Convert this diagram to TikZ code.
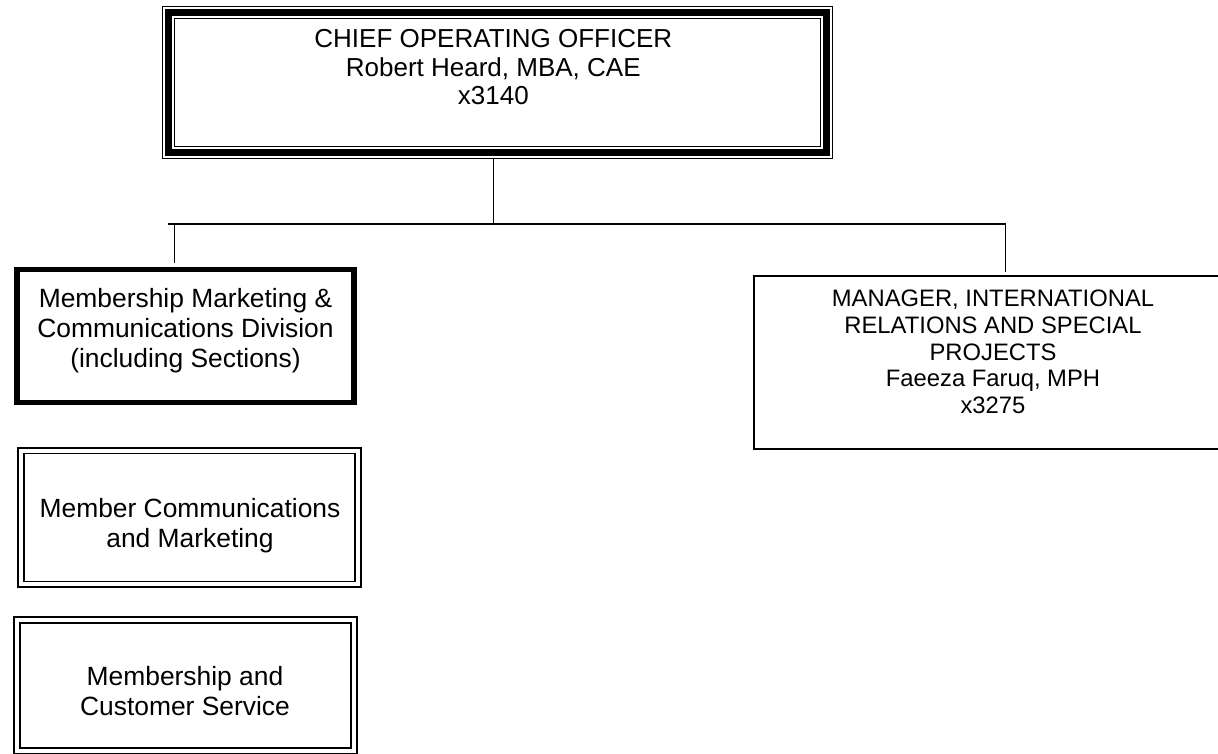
\documentclass[tikz,border=0pt]{standalone}
\usepackage{fontspec}
\setmainfont{Liberation Sans}
\begin{document}
\begin{tikzpicture}[x=1pt, y=-1pt]
		\tikzset{box/.style={rectangle, draw=black, inner sep=0pt}};
		\tikzset{heavy/.style={box, line width=5.5pt}};
		\tikzset{triple/.style={box, preaction={draw, line width=13.5pt}, preaction={draw, white, line width=11.3pt}, line width=7.5pt, outer sep=6.75pt}};
		\tikzset{dbl/.style={box, double, double distance=4pt, line width=1.8pt}};
		\tikzset{plain/.style={box, line width=1.8pt}};
		\tikzset{txt/.style={anchor=north, align=center, inner sep=0pt, font=\fontsize{26.4}{30}\selectfont}};
		\tikzset{conn/.style={line width=1.6pt}};

		\useasboundingbox (0, 0) rectangle (1218, 754);
		\clip (0, 0) rectangle (1218, 754);

		\node[triple, minimum width=657.6pt, minimum height=140.2pt] (coo) at (497.5, 82.6) {};
		\node[heavy, minimum width=337pt, minimum height=133.3pt] (mmc) at (185.5, 335.9) {};
		\node[dbl, minimum width=336.9pt, minimum height=133.8pt] (mcm) at (189.3, 517.4) {};
		\node[dbl, minimum width=337pt, minimum height=131.3pt] (mcs) at (185.5, 685.4) {};
		\node[plain, minimum width=478pt, minimum height=173pt] (mir) at (993, 362.7) {};

		\node[txt, font=\fontsize{26}{28.7}\selectfont] (coo-t) at (493.3, 29) {CHIEF OPERATING OFFICER\\Robert Heard, MBA, CAE\\x3140};
		\node[txt] (mmc-t) at (185.5, 288) {Membership Marketing \&\\Communications Division\\(including Sections)};
		\node[txt] (mcm-t) at (190, 498) {Member Communications\\and Marketing};
		\node[txt] (mcs-t) at (185, 666.5) {Membership and\\Customer Service};
		\node[txt, font=\fontsize{23.8}{26.7}\selectfont] (mir-t) at (993, 290) {MANAGER, INTERNATIONAL\\RELATIONS AND SPECIAL\\PROJECTS\\Faeeza Faruq, MPH\\x3275};

		\coordinate (bus-c) at (493.3, 224.3);
		\coordinate (bus-l) at (168, 224.3);
		\coordinate (bus-r) at (1005.5, 224.3);
		\coordinate (tick-l) at (174.3, 262.7);
		\coordinate (tick-r) at (1005.5, 271.7);

		\draw[conn] (coo.south -| bus-c) -- (bus-c);
		\draw[conn] (bus-l) -- (bus-r) -- (tick-r);
		\draw[conn] (tick-l |- bus-l) -- (tick-l);

	\end{tikzpicture}
\end{document}
